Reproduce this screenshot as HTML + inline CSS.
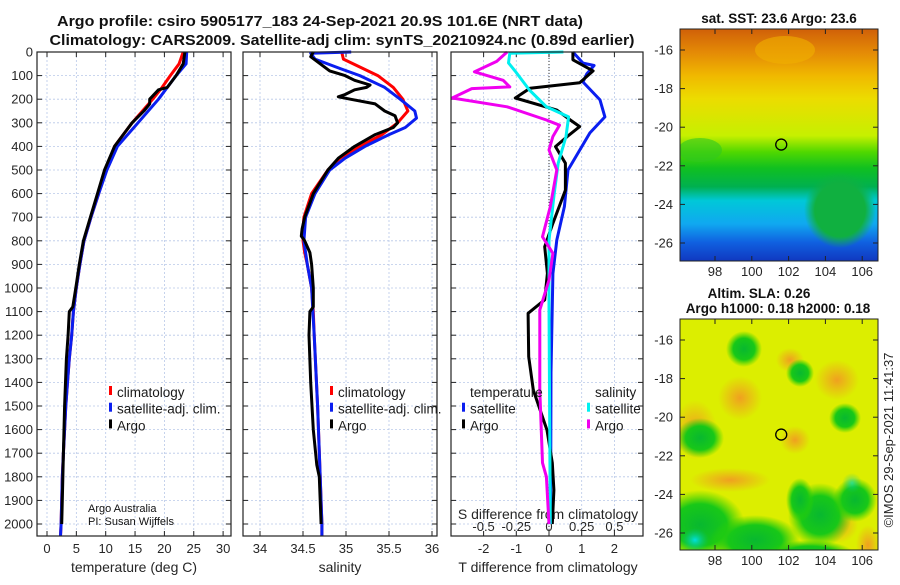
<!DOCTYPE html>
<html><head><meta charset="utf-8"><style>
body{margin:0;background:#fff;width:900px;height:580px;overflow:hidden}
svg{font-family:"Liberation Sans","DejaVu Sans",sans-serif}
</style></head><body>
<svg id="c" width="900" height="580" viewBox="0 0 900 580">
<defs>
<linearGradient id="sstg" x1="0" y1="0" x2="0" y2="1">
<stop offset="0" stop-color="#d06008"/><stop offset="0.1" stop-color="#e48a06"/><stop offset="0.2" stop-color="#f0b800"/>
<stop offset="0.3" stop-color="#ecdc00"/><stop offset="0.46" stop-color="#c6f000"/><stop offset="0.53" stop-color="#50d800"/>
<stop offset="0.6" stop-color="#10c020"/><stop offset="0.68" stop-color="#00b050"/><stop offset="0.74" stop-color="#00c8d8"/>
<stop offset="0.84" stop-color="#10a8f0"/><stop offset="0.92" stop-color="#1060e0"/><stop offset="1" stop-color="#1038c0"/>
</linearGradient>
<radialGradient id="g1"><stop offset="0" stop-color="#10b040"/><stop offset="0.7" stop-color="#10b040"/><stop offset="1" stop-color="#10b040" stop-opacity="0"/></radialGradient>
<radialGradient id="o1"><stop offset="0" stop-color="#f0a020"/><stop offset="1" stop-color="#f0a020" stop-opacity="0"/></radialGradient>
<radialGradient id="gr"><stop offset="0" stop-color="#08b830"/><stop offset="0.6" stop-color="#18c818"/><stop offset="1" stop-color="#30d000" stop-opacity="0"/></radialGradient>
<radialGradient id="cy"><stop offset="0" stop-color="#00e0e0"/><stop offset="1" stop-color="#00c080" stop-opacity="0"/></radialGradient>
<clipPath id="cp1"><rect x="680" y="29" width="198" height="232"/></clipPath>
<clipPath id="cp2"><rect x="680" y="319" width="198" height="231"/></clipPath>
</defs>
<g id="root"></g>
</svg>
<script>
// ---- data (depth m, value) ----
const tempDepth = [0,50,100,150,200,300,400,500,600,700,800,900,1000,1100,1200,1300,1400,1500,1600,1700,1800,1900,2000,2050];
const tempClim  = [23.2,22.5,21,19.6,18,14.5,11.5,10,8.8,7.5,6.3,5.6,5,4.5,4.2,3.8,3.5,3.2,3,2.8,2.6,2.5,2.4,2.3];
const tempSat   = [23.8,23.7,22,20.5,19,15.5,12,10.2,8.8,7.5,6.3,5.6,5,4.5,4.2,3.8,3.5,3.2,3,2.8,2.6,2.5,2.4,2.3];
const argoTDepth= [0,50,100,150,160,200,220,250,300,400,500,600,700,800,900,1000,1080,1100,1200,1300,1500,1700,1900,2000];
const argoTemp  = [23.5,23.2,22,20.5,19,17.5,17.5,16.5,14.5,11.5,9.8,8.6,7.4,6.2,5.5,4.9,4.4,3.8,3.6,3.3,3,2.8,2.6,2.5];
const salDepth  = [0,30,100,150,200,250,300,350,400,450,500,600,700,750,800,850,900,1000,1100,1200,1500,1800,2000,2050];
const salClim   = [34.95,34.97,35.37,35.55,35.66,35.72,35.6,35.42,35.16,34.93,34.79,34.6,34.51,34.5,34.5,34.52,34.55,34.6,34.62,34.63,34.67,34.7,34.72,34.72];
const salSatDepth=[0,5,30,70,100,150,200,250,280,320,350,400,450,500,600,700,800,900,1000,1200,1500,1800,2000,2050];
const salSat    = [35.06,34.59,34.64,34.93,35.16,35.45,35.63,35.8,35.82,35.69,35.5,35.22,34.99,34.81,34.64,34.53,34.51,34.55,34.6,34.63,34.67,34.7,34.72,34.72];
const argoSDepth= [0,20,50,80,100,120,140,150,160,180,190,200,220,250,270,300,320,350,400,450,500,600,700,750,780,800,850,900,1000,1080,1100,1200,1400,1600,1750,1800,1900,2000];
const argoSal   = [34.62,34.59,34.7,34.81,34.99,35.1,35.28,35.24,35.1,34.99,34.91,35.05,35.34,35.45,35.57,35.6,35.55,35.34,35.1,34.91,34.79,34.62,34.52,34.49,34.48,34.52,34.58,34.6,34.62,34.62,34.58,34.57,34.59,34.62,34.66,34.69,34.7,34.71];
const dTSatDepth= [0,47,57,92,127,203,275,343,500,655,797,939,1360,2000];
const dTSat     = [0.73,1.04,1.38,1.16,1.04,1.56,1.71,1.25,0.58,0.47,0.24,0.12,0.06,0.05];
const dTArgoDepth=[0,33,80,130,154,195,246,288,316,359,401,471,585,726,825,938,1050,1107,1291,1432,1602,1741,1856,2000];
const dTArgo    = [0.73,0.73,1.35,0.94,-0.58,-1.03,0.24,0.65,0.94,0.55,0.2,0.5,0.5,0.12,-0.13,-0.05,-0.13,-0.64,-0.62,-0.48,-0.06,0.1,0.15,0.1];
const dSArgoDepth=[0,40,84,120,148,155,195,232,288,310,358,415,500,655,783,853,966,1093,1432,1741,1800,2000];
const dSArgo    = [-0.32,-0.4,-0.57,-0.35,-0.3,-0.59,-0.74,-0.32,-0.02,0.08,0.03,0,0.06,0.01,-0.05,0.03,0,-0.07,-0.07,-0.05,-0.02,0];
const dSSatDepth= [0,5,46,80,161,232,275,358,471,600,797,1078,2000];
const dSSat     = [0.11,-0.3,-0.31,-0.26,-0.15,-0.02,0.15,0.13,0.07,0.04,0,0,0.01];
const depthTicks= [0,100,200,300,400,500,600,700,800,900,1000,1100,1200,1300,1400,1500,1600,1700,1800,1900,2000];
const tTicks=[0,5,10,15,20,25,30], sTicks=[34,34.5,35,35.5,36], dTTicks=[-2,-1,0,1,2], dSTicks=[-0.5,-0.25,0,0.25,0.5];
const dSTickLabels=["-0.5","-0.25","0","0.25","0.5"];
const latTicks=[-16,-18,-20,-22,-24,-26], lonTicks=[98,100,102,104,106];

const NS='http://www.w3.org/2000/svg', root=document.getElementById('root');
function el(tag,at,txt,parent){const e=document.createElementNS(NS,tag);for(const k in at)e.setAttribute(k,at[k]);if(txt!=null)e.textContent=txt;(parent||root).appendChild(e);return e;}
const Y0=52, YK=0.236, YB=536;
const y=d=>Y0+d*YK;
const xT=v=>47+v*5.87, xS=v=>260+(v-34)*86, xD=v=>549+v*32.7, xDS=v=>549+v*130.8;
const panels=[[37,231],[243,437],[451,643]];

// grids & frames
panels.forEach((p,i)=>{
  const g=el('g',{});
  
  
  depthTicks.forEach(d=>{
    el('line',{x1:p[0],x2:p[1],y1:y(d),y2:y(d),stroke:'#b8c8e8','stroke-width':0.8,'stroke-dasharray':'2,2'},null,g);
  });
  const xt=i==0?tTicks.map(xT):i==1?sTicks.map(xS):dTTicks.map(xD);
  xt.forEach(x=>el('line',{x1:x,x2:x,y1:Y0,y2:YB,stroke:'#b8c8e8','stroke-width':0.8,'stroke-dasharray':'2,2'},null,g));
  if(i==2) el('line',{x1:xD(0),x2:xD(0),y1:Y0,y2:YB,stroke:'#333','stroke-width':1,'stroke-dasharray':'1,2'},null,g);
  depthTicks.forEach(d=>{
    el('line',{x1:p[0],x2:p[0]+5,y1:y(d),y2:y(d),stroke:'#222'},null,g);
    el('line',{x1:p[1]-5,x2:p[1],y1:y(d),y2:y(d),stroke:'#222'},null,g);
  });
  xt.forEach(x=>{el('line',{x1:x,x2:x,y1:YB,y2:YB-5,stroke:'#222'},null,g);el('line',{x1:x,x2:x,y1:Y0,y2:Y0+5,stroke:'#222'},null,g);});
});
// depth labels
depthTicks.forEach(d=>{
  const t=el('text',{x:33,y:y(d)+4.5,'text-anchor':'end','font-size':13,fill:'#262626'},String(d));
  
  
});
function xlabels(vals,fn,labels,yy){vals.forEach((v,i)=>{const t=el('text',{x:fn(v),y:yy,'text-anchor':'middle','font-size':13,fill:'#262626'},labels?labels[i]:String(v));
  
  });}
xlabels(tTicks,xT,null,553); xlabels(sTicks,xS,null,553); xlabels(dTTicks,xD,null,553);
xlabels(dSTicks,xDS,dSTickLabels,531);
[[134,'temperature (deg C)'],[340,'salinity'],[548,'T difference from climatology']].forEach(a=>{
  const t=el('text',{x:a[0],y:572,'text-anchor':'middle','font-size':14,fill:'#262626'},a[1]);
  
  
});
{const t=el('text',{x:548,y:519,'text-anchor':'middle','font-size':14,fill:'#262626'},'S difference from climatology');
 
 }

// series
function line(ds,vs,fn,color,name){
  const pts=ds.map((d,i)=>fn(vs[i]).toFixed(1)+','+y(d).toFixed(1)).join(' ');
  const p=el('polyline',{points:pts,fill:'none',stroke:color,'stroke-width':3,'stroke-linejoin':'round'});
  
  
}
line(tempDepth,tempClim,xT,'#f00','temp-climatology-line');
line(tempDepth,tempSat,xT,'#0a1ef0','temp-satellite-line');
line(argoTDepth,argoTemp,xT,'#000','temp-argo-line');
line(salDepth,salClim,xS,'#f00','sal-climatology-line');
line(salSatDepth,salSat,xS,'#0a1ef0','sal-satellite-line');
line(argoSDepth,argoSal,xS,'#000','sal-argo-line');
line(dTSatDepth,dTSat,xD,'#0a1ef0','dT-satellite-line');
line(dTArgoDepth,dTArgo,xD,'#000','dT-argo-line');
line(dSSatDepth,dSSat,xDS,'#00f0f0','dS-satellite-line');
line(dSArgoDepth,dSArgo,xDS,'#f000f0','dS-argo-line');

// frames on top
panels.forEach(p=>el('rect',{x:p[0],y:Y0,width:p[1]-p[0],height:YB-Y0,fill:'none',stroke:'#222','stroke-width':1.2}));

// legends
function legend(x,yy,items,name){
  const g=el('g',{});
  
  
  items.forEach((it,i)=>{
    if(it[1]) el('rect',{x:x,y:yy+i*16.7-11,width:3,height:9,fill:it[1]},null,g);
    el('text',{x:x+it[2],y:yy+i*16.7,'font-size':13.5,fill:'#1a1a1a'},it[0],g);
  });
}
legend(109,397,[['climatology','#f00',8],['satellite-adj. clim.','#0a1ef0',8],['Argo','#000',8]],'temp-legend');
legend(330,397,[['climatology','#f00',8],['satellite-adj. clim.','#0a1ef0',8],['Argo','#000',8]],'sal-legend');
legend(462,397,[['temperature',null,8],['satellite','#0a1ef0',8],['Argo','#000',8]],'dT-legend');
legend(587,397,[['salinity',null,8],['satellite','#00f0f0',8],['Argo','#f000f0',8]],'dS-legend');
el('text',{x:88,y:512,'font-size':11,fill:'#111'},'Argo Australia');
el('text',{x:88,y:525,'font-size':11,fill:'#111'},'PI: Susan Wijffels');

// titles
el('text',{x:320,y:26,'text-anchor':'middle','font-size':14.5,'font-weight':'bold',fill:'#111',textLength:526,lengthAdjust:'spacingAndGlyphs'},'Argo profile: csiro 5905177_183 24-Sep-2021 20.9S 101.6E (NRT data)');
el('text',{x:342,y:45,'text-anchor':'middle','font-size':14.5,'font-weight':'bold',fill:'#111',textLength:585,lengthAdjust:'spacingAndGlyphs'},'Climatology: CARS2009. Satellite-adj clim: synTS_20210924.nc (0.89d earlier)');

// maps
const lonX=v=>715+(v-98)*18.4;
const latY1=v=>50+(-16-v)*19.3, latY2=v=>340+(-16-v)*19.3;
const m1=el('g',{'clip-path':'url(#cp1)'});


el('rect',{x:680,y:29,width:198,height:232,fill:'url(#sstg)'},null,m1);
el('ellipse',{cx:840,cy:210,rx:36,ry:38,fill:'url(#g1)'},null,m1);
el('ellipse',{cx:700,cy:150,rx:22,ry:12,fill:'#30c820',opacity:0.6},null,m1);
el('ellipse',{cx:785,cy:50,rx:30,ry:14,fill:'#f0b000',opacity:0.6},null,m1);
el('rect',{x:680,y:29,width:198,height:232,fill:'none',stroke:'#222'});
el('text',{x:779,y:23,'text-anchor':'middle','font-size':13.5,'font-weight':'bold',fill:'#111'},'sat. SST: 23.6 Argo: 23.6');
const m2=el('g',{'clip-path':'url(#cp2)'});


el('rect',{x:680,y:319,width:198,height:231,fill:'#dcee00'},null,m2);
[[740,398,22,22],[795,440,15,14],[837,380,22,20],[838,525,20,18],[695,430,22,30],[730,480,40,12],[868,545,12,20],[790,360,14,12]].forEach(c=>el('ellipse',{cx:c[0],cy:c[1],rx:c[2],ry:c[3],fill:'url(#o1)'},null,m2));
[[744,349,18,18],[800,373,14,14],[845,418,16,15],[700,438,24,20],[820,515,32,32],[855,500,22,22],[700,525,45,35],[755,540,45,25],[810,555,45,15],[800,500,14,22]].forEach(c=>el('ellipse',{cx:c[0],cy:c[1],rx:c[2],ry:c[3],fill:'url(#gr)'},null,m2));
el('ellipse',{cx:695,cy:540,rx:14,ry:12,fill:'url(#cy)'},null,m2);
el('ellipse',{cx:852,cy:483,rx:10,ry:10,fill:'url(#cy)',opacity:0.6},null,m2);
el('rect',{x:680,y:319,width:198,height:231,fill:'none',stroke:'#222'});
el('text',{x:759,y:298,'text-anchor':'middle','font-size':13.5,'font-weight':'bold',fill:'#111'},'Altim. SLA: 0.26');
el('text',{x:778,y:313,'text-anchor':'middle','font-size':13.5,'font-weight':'bold',fill:'#111'},'Argo h1000: 0.18 h2000: 0.18');
[[latY1,29,261],[latY2,319,550]].forEach(m=>{
  latTicks.forEach(v=>{const yy=m[0](v);
    el('line',{x1:680,x2:685,y1:yy,y2:yy,stroke:'#222'});el('line',{x1:873,x2:878,y1:yy,y2:yy,stroke:'#222'});
    const t=el('text',{x:673,y:yy+4.5,'text-anchor':'end','font-size':13,fill:'#262626'},String(v));
    
    });
  lonTicks.forEach(v=>{const xx=lonX(v);
    el('line',{x1:xx,x2:xx,y1:m[2],y2:m[2]-5,stroke:'#222'});el('line',{x1:xx,x2:xx,y1:m[1],y2:m[1]+5,stroke:'#222'});
    const t=el('text',{x:xx,y:m[2]+15,'text-anchor':'middle','font-size':13,fill:'#262626'},String(v));
    
    });
});
const floatLon=[101.6], floatLat=[-20.9];
const c1=el('circle',{cx:lonX(floatLon[0]),cy:latY1(floatLat[0]),r:5.5,fill:'none',stroke:'#000','stroke-width':1.3});


const c2=el('circle',{cx:lonX(floatLon[0]),cy:latY2(floatLat[0]),r:5.5,fill:'none',stroke:'#000','stroke-width':1.3});


el('text',{x:0,y:0,'font-size':13,fill:'#262626','text-anchor':'middle',transform:'translate(893,440) rotate(-90)'},'©IMOS 29-Sep-2021 11:41:37');
</script>
</body></html>
